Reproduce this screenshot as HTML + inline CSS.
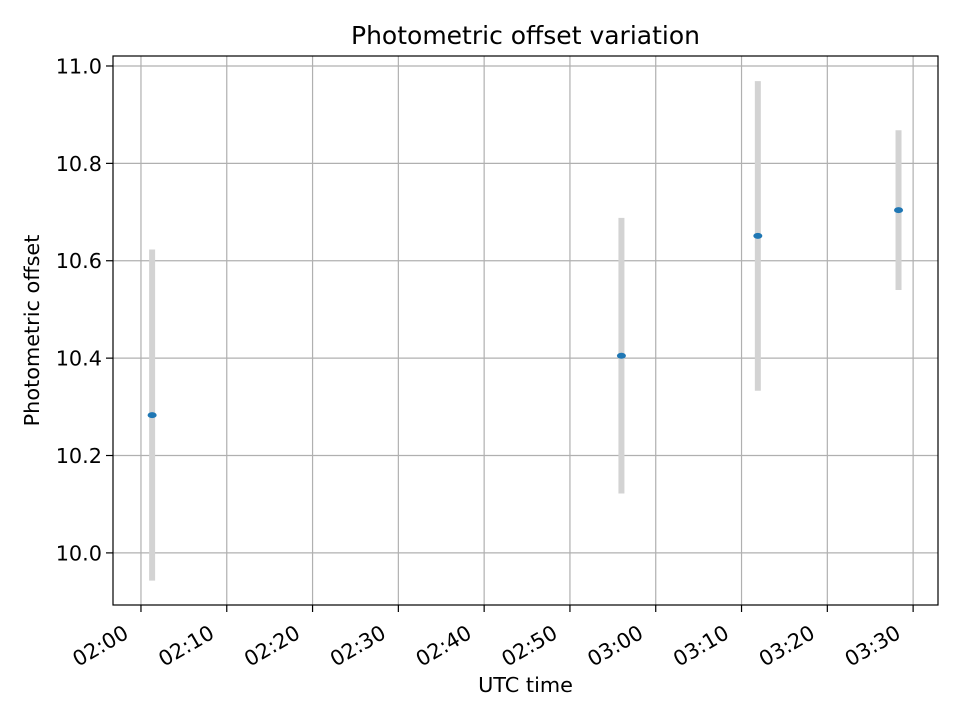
<!DOCTYPE html>
<html><head><meta charset="utf-8"><style>
body{margin:0;background:#fff;}
svg{display:block;font-family:"DejaVu Sans","Liberation Sans",sans-serif;}
</style></head><body>
<svg id="chart" width="960" height="720"></svg>
<script>
const times = [1.3, 56.0, 71.9, 88.3]; // minutes after 02:00
const values = [10.283, 10.405, 10.651, 10.704];
const errors = [0.34, 0.283, 0.318, 0.164];
const yTicks = [10.0, 10.2, 10.4, 10.6, 10.8, 11.0];
const yTickLabels = ["10.0","10.2","10.4","10.6","10.8","11.0"];
const xTicks = [0,10,20,30,40,50,60,70,80,90];
const xTickLabels = ["02:00","02:10","02:20","02:30","02:40","02:50","03:00","03:10","03:20","03:30"];

const L=113,R=938,T=56,B=605;
const xMin=-3.26,xMax=92.9,yMin=9.893,yMax=11.0205;
const sx=v=>L+(v-xMin)/(xMax-xMin)*(R-L);
const sy=v=>B-(v-yMin)/(yMax-yMin)*(B-T);
const svg=document.getElementById('chart');
const NS="http://www.w3.org/2000/svg";
function mk(tag,attrs,parent){const e=document.createElementNS(NS,tag);for(const k in attrs)e.setAttribute(k,attrs[k]);(parent||svg).appendChild(e);return e;}

const grid=mk('g',{});


xTicks.forEach((t,i)=>{
  const x=sx(t);
  const gl=mk('line',{x1:x,x2:x,y1:T,y2:B,stroke:'#b0b0b0','stroke-width':1.2},grid);
  
  
  const tk=mk('line',{x1:x,x2:x,y1:B,y2:B+7,stroke:'#000','stroke-width':1.2});
  
  
  const ax=x-11, ay=B+32;
  const tx=mk('text',{x:ax,y:ay,'font-size':20.8,'text-anchor':'end',transform:`rotate(-30 ${ax} ${ay})`});
  tx.textContent=xTickLabels[i];
  
  
});
yTicks.forEach((t,i)=>{
  const y=sy(t);
  const gl=mk('line',{x1:L,x2:R,y1:y,y2:y,stroke:'#b0b0b0','stroke-width':1.2},grid);
  
  
  const tk=mk('line',{x1:L-7,x2:L,y1:y,y2:y,stroke:'#000','stroke-width':1.2});
  
  
  const tx=mk('text',{x:L-11,y:y+7.5,'font-size':20.8,'text-anchor':'end'});
  tx.textContent=yTickLabels[i];
  
  
});
times.forEach((t,i)=>{
  const x=sx(t);
  const eb=mk('line',{x1:x,x2:x,y1:sy(values[i]+errors[i]),y2:sy(values[i]-errors[i]),stroke:'#d3d3d3','stroke-width':6});
  
  
});
times.forEach((t,i)=>{
  const p=mk('ellipse',{cx:sx(t),cy:sy(values[i]),rx:4.5,ry:3,fill:'#1f77b4'});
  
  
});
const frame=mk('rect',{x:L,y:T,width:R-L,height:B-T,fill:'none',stroke:'#000','stroke-width':1.2});


const title=mk('text',{x:(L+R)/2,y:44,'font-size':25,'text-anchor':'middle'});
title.textContent='Photometric offset variation';


const xl=mk('text',{x:(L+R)/2,y:692,'font-size':20.8,'text-anchor':'middle'});
xl.textContent='UTC time';


const yl=mk('text',{x:39,y:(T+B)/2,'font-size':20.8,'text-anchor':'middle',transform:`rotate(-90 39 ${(T+B)/2})`});
yl.textContent='Photometric offset';


</script>
</body></html>
